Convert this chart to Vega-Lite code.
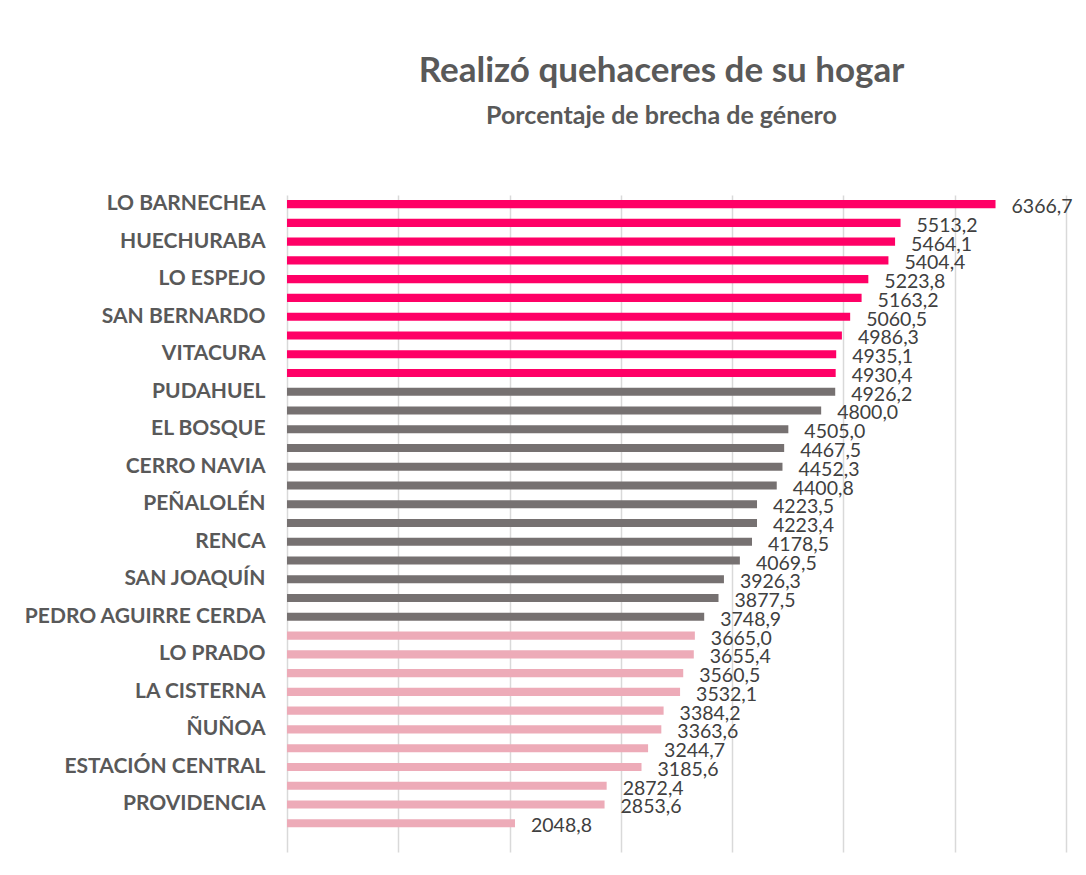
{
  "$schema": "https://vega.github.io/schema/vega-lite/v6.json",
  "autosize": "none",
  "width": 779,
  "height": 657,
  "padding": {"left": 287, "top": 195, "right": 20, "bottom": 23},
  "background": "white",
  "config": {
    "locale": {"number": {"decimal": ",", "thousands": ".", "grouping": [3], "currency": ["$", ""]}},
    "view": {"stroke": null},
    "font": "Lato"
  },
  "title": {
    "text": "Realizó quehaceres de su hogar",
    "subtitle": "Porcentaje de brecha de género",
    "anchor": "middle",
    "frame": "group",
    "dx": -15,
    "offset": 64,
    "font": "Lato",
    "fontSize": 35,
    "fontWeight": "bold",
    "color": "#595959",
    "subtitleFont": "Lato",
    "subtitleFontSize": 25,
    "subtitleFontWeight": "bold",
    "subtitleColor": "#595959",
    "subtitlePadding": 15
  },
  "data": {
    "values": [
      {"comuna": "LO BARNECHEA", "valor": 6366.7, "grupo": "alto"},
      {"comuna": "LA PINTANA", "valor": 5513.2, "grupo": "alto"},
      {"comuna": "HUECHURABA", "valor": 5464.1, "grupo": "alto"},
      {"comuna": "SAN RAMÓN", "valor": 5404.4, "grupo": "alto"},
      {"comuna": "LO ESPEJO", "valor": 5223.8, "grupo": "alto"},
      {"comuna": "PUENTE ALTO", "valor": 5163.2, "grupo": "alto"},
      {"comuna": "SAN BERNARDO", "valor": 5060.5, "grupo": "alto"},
      {"comuna": "LA GRANJA", "valor": 4986.3, "grupo": "alto"},
      {"comuna": "VITACURA", "valor": 4935.1, "grupo": "alto"},
      {"comuna": "LAS CONDES", "valor": 4930.4, "grupo": "alto"},
      {"comuna": "PUDAHUEL", "valor": 4926.2, "grupo": "medio"},
      {"comuna": "QUILICURA", "valor": 4800.0, "grupo": "medio"},
      {"comuna": "EL BOSQUE", "valor": 4505.0, "grupo": "medio"},
      {"comuna": "CONCHALÍ", "valor": 4467.5, "grupo": "medio"},
      {"comuna": "CERRO NAVIA", "valor": 4452.3, "grupo": "medio"},
      {"comuna": "LA FLORIDA", "valor": 4400.8, "grupo": "medio"},
      {"comuna": "PEÑALOLÉN", "valor": 4223.5, "grupo": "medio"},
      {"comuna": "RECOLETA", "valor": 4223.4, "grupo": "medio"},
      {"comuna": "RENCA", "valor": 4178.5, "grupo": "medio"},
      {"comuna": "CERRILLOS", "valor": 4069.5, "grupo": "medio"},
      {"comuna": "SAN JOAQUÍN", "valor": 3926.3, "grupo": "medio"},
      {"comuna": "MAIPÚ", "valor": 3877.5, "grupo": "medio"},
      {"comuna": "PEDRO AGUIRRE CERDA", "valor": 3748.9, "grupo": "medio"},
      {"comuna": "QUINTA NORMAL", "valor": 3665.0, "grupo": "bajo"},
      {"comuna": "LO PRADO", "valor": 3655.4, "grupo": "bajo"},
      {"comuna": "INDEPENDENCIA", "valor": 3560.5, "grupo": "bajo"},
      {"comuna": "LA CISTERNA", "valor": 3532.1, "grupo": "bajo"},
      {"comuna": "MACUL", "valor": 3384.2, "grupo": "bajo"},
      {"comuna": "ÑUÑOA", "valor": 3363.6, "grupo": "bajo"},
      {"comuna": "LA REINA", "valor": 3244.7, "grupo": "bajo"},
      {"comuna": "ESTACIÓN CENTRAL", "valor": 3185.6, "grupo": "bajo"},
      {"comuna": "SAN MIGUEL", "valor": 2872.4, "grupo": "bajo"},
      {"comuna": "PROVIDENCIA", "valor": 2853.6, "grupo": "bajo"},
      {"comuna": "SANTIAGO", "valor": 2048.8, "grupo": "bajo"}
    ]
  },
  "encoding": {
    "y": {
      "field": "comuna",
      "type": "nominal",
      "sort": {"field": "valor", "order": "descending"},
      "scale": {"paddingInner": 0.57, "paddingOuter": 0.795, "align": 0.17},
      "axis": {
        "title": null,
        "domain": false,
        "ticks": false,
        "labelPadding": 22,
        "labelFont": "Lato",
        "labelFontSize": 21,
        "labelFontWeight": "bold",
        "labelColor": "#595959",
        "labelLimit": 400,
        "labelExpr": "indexof(['LO BARNECHEA','HUECHURABA','LO ESPEJO','SAN BERNARDO','VITACURA','PUDAHUEL','EL BOSQUE','CERRO NAVIA','PEÑALOLÉN','RENCA','SAN JOAQUÍN','PEDRO AGUIRRE CERDA','LO PRADO','LA CISTERNA','ÑUÑOA','ESTACIÓN CENTRAL','PROVIDENCIA'], datum.value) >= 0 ? datum.value : ''"
      }
    },
    "x": {
      "field": "valor",
      "type": "quantitative",
      "scale": {"domain": [0, 7000], "nice": false},
      "axis": {
        "title": null,
        "labels": false,
        "ticks": false,
        "domain": false,
        "grid": true,
        "gridColor": "#D9D9D9",
        "gridWidth": 1.5,
        "values": [0, 1000, 2000, 3000, 4000, 5000, 6000, 7000]
      }
    }
  },
  "layer": [
    {
      "mark": {"type": "bar"},
      "encoding": {
        "color": {
          "field": "grupo",
          "type": "nominal",
          "scale": {"domain": ["alto", "medio", "bajo"], "range": ["#FF0066", "#767171", "#EDABB8"]},
          "legend": null
        }
      }
    },
    {
      "mark": {"type": "text", "align": "left", "baseline": "middle", "dx": 16, "dy": 3, "font": "Lato", "fontSize": 19.5, "color": "#404040"},
      "encoding": {
        "text": {"field": "valor", "type": "quantitative", "format": ".1f"}
      }
    }
  ]
}
